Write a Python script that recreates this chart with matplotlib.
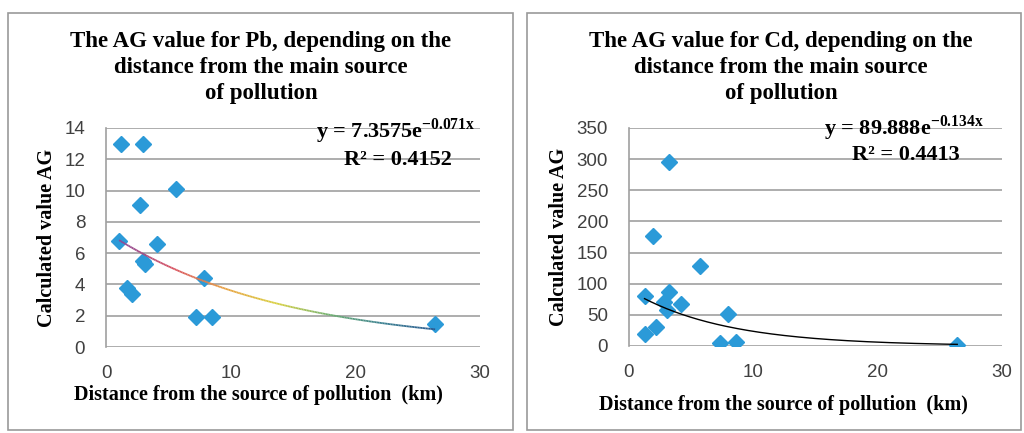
import matplotlib
matplotlib.use("Agg")
import matplotlib.pyplot as plt
import numpy as np
from matplotlib.collections import LineCollection
from matplotlib.colors import LinearSegmentedColormap
from matplotlib.patches import Rectangle

# Pb data (distance km, AG value)
pb_x = [1.2, 3.0, 5.6, 2.7, 1.05, 4.1, 3.0, 3.1, 7.9, 1.7, 2.1, 7.2, 8.5, 26.4]
pb_y = [13.0, 13.0, 10.1, 9.1, 6.8, 6.6, 5.5, 5.3, 4.4, 3.8, 3.4, 1.9, 1.9, 1.45]
pb_fit = (7.3575, -0.071)
pb_eq = ["y = 7.3575e$^{\\mathregular{-0.071x}}$", "R² = 0.4152"]

# Cd data
cd_x = [3.25, 1.9, 5.7, 1.25, 3.25, 2.8, 3.05, 4.2, 8.0, 1.25, 2.2, 7.3, 8.6, 26.4]
cd_y = [296, 176, 128, 81, 86, 71, 57, 67, 51, 19, 31, 5, 6, 2]
cd_fit = (89.888, -0.134)
cd_eq = ["y = 89.888e$^{\\mathregular{-0.134x}}$", "R² = 0.4413"]

titles = ["The AG value for Pb, depending on the\ndistance from the main source\nof pollution",
          "The AG value for Cd, depending on the\ndistance from the main source\nof pollution"]
xlab = "Distance from the source of pollution  (km)"
ylab = "Calculated value AG"

serif = "Liberation Serif"
W, H = 1024, 433
fig = plt.figure(figsize=(W / 100, H / 100), dpi=100)

def fx(px):
    return px / W

def fy(py):
    return 1 - py / H

# panel frames
for x0, x1 in [(8, 513), (527, 1021)]:
    fig.add_artist(Rectangle((fx(x0), fy(430)), fx(x1 - x0), (430 - 13) / H,
                             transform=fig.transFigure, fill=False,
                             edgecolor="#9a9a9a", lw=1.2))

panels = [
    dict(xs=pb_x, ys=pb_y, fit=pb_fit, eq=pb_eq, title=titles[0], ymax=14, ystep=2,
         box=(106, 480, 128, 347), tcx=261, eqx=(475, 452), eqy=(131, 160),
         ylx=47, xlx=258, xly=395, gradient=True),
    dict(xs=cd_x, ys=cd_y, fit=cd_fit, eq=cd_eq, title=titles[1], ymax=350, ystep=50,
         box=(629, 1002, 128, 346), tcx=781, eqx=(984, 960), eqy=(128, 155),
         ylx=559, xlx=783, xly=405, gradient=False),
]

cmap = LinearSegmentedColormap.from_list(
    "trend", ["#8a4a9a", "#d85060", "#e8a040", "#d8d040", "#70b070", "#3a8090", "#2a5a90"])

for p in panels:
    l, r, t, b = p["box"]
    ax = fig.add_axes([fx(l), fy(b), fx(r - l), (b - t) / H])
    ax.set_xlim(0, 30)
    ax.set_ylim(0, p["ymax"])
    ax.set_xticks([0, 10, 20, 30])
    ax.set_yticks(np.arange(0, p["ymax"] + 1, p["ystep"]))
    ax.grid(axis="y", color="#a0a0a0", lw=1.2)
    ax.set_axisbelow(True)
    for s in ["top", "right", "bottom"]:
        ax.spines[s].set_visible(False)
    ax.spines["left"].set_color("#a0a0a0")
    ax.spines["left"].set_linewidth(1.2)
    ax.tick_params(length=0, labelsize=13.5, labelcolor="#404040")
    ax.tick_params(axis="y", pad=15)
    ax.tick_params(axis="x", pad=13)
    for lab in ax.get_xticklabels() + ax.get_yticklabels():
        lab.set_fontfamily("Liberation Sans")

    a, k = p["fit"]
    xx = np.linspace(min(p["xs"]), max(p["xs"]), 200)
    yy = a * np.exp(k * xx)
    if p["gradient"]:
        pts = np.column_stack([xx, yy]).reshape(-1, 1, 2)
        segs = np.concatenate([pts[:-1], pts[1:]], axis=1)
        lc = LineCollection(segs, cmap=cmap, lw=1.3, zorder=3)
        lc.set_array(np.linspace(0, 1, len(segs)))
        ax.add_collection(lc)
    else:
        ax.plot(xx, yy, color="black", lw=1.0, zorder=3)

    ax.plot(p["xs"], p["ys"], "D", color="#2b9ad8", ms=8, mec="#2b9ad8", zorder=2)

    fig.text(fx(p["tcx"]), fy(31), p["title"], ha="center", va="top",
             fontfamily=serif, fontweight="bold", fontsize=16.5, linespacing=1.3)
    fig.text(fx(p["eqx"][0]), fy(p["eqy"][0]), p["eq"][0], ha="right", va="center",
             fontfamily=serif, fontweight="bold", fontsize=16)
    fig.text(fx(p["eqx"][1]), fy(p["eqy"][1]), p["eq"][1], ha="right", va="center",
             fontfamily=serif, fontweight="bold", fontsize=16)
    fig.text(fx(p["ylx"]), fy((t + b) / 2), ylab, rotation=90, ha="center", va="center",
             fontfamily=serif, fontweight="bold", fontsize=14.5)
    fig.text(fx(p["xlx"]), fy(p["xly"]), xlab, ha="center", va="center",
             fontfamily=serif, fontweight="bold", fontsize=14.5)

fig.savefig("out.png", dpi=100)
